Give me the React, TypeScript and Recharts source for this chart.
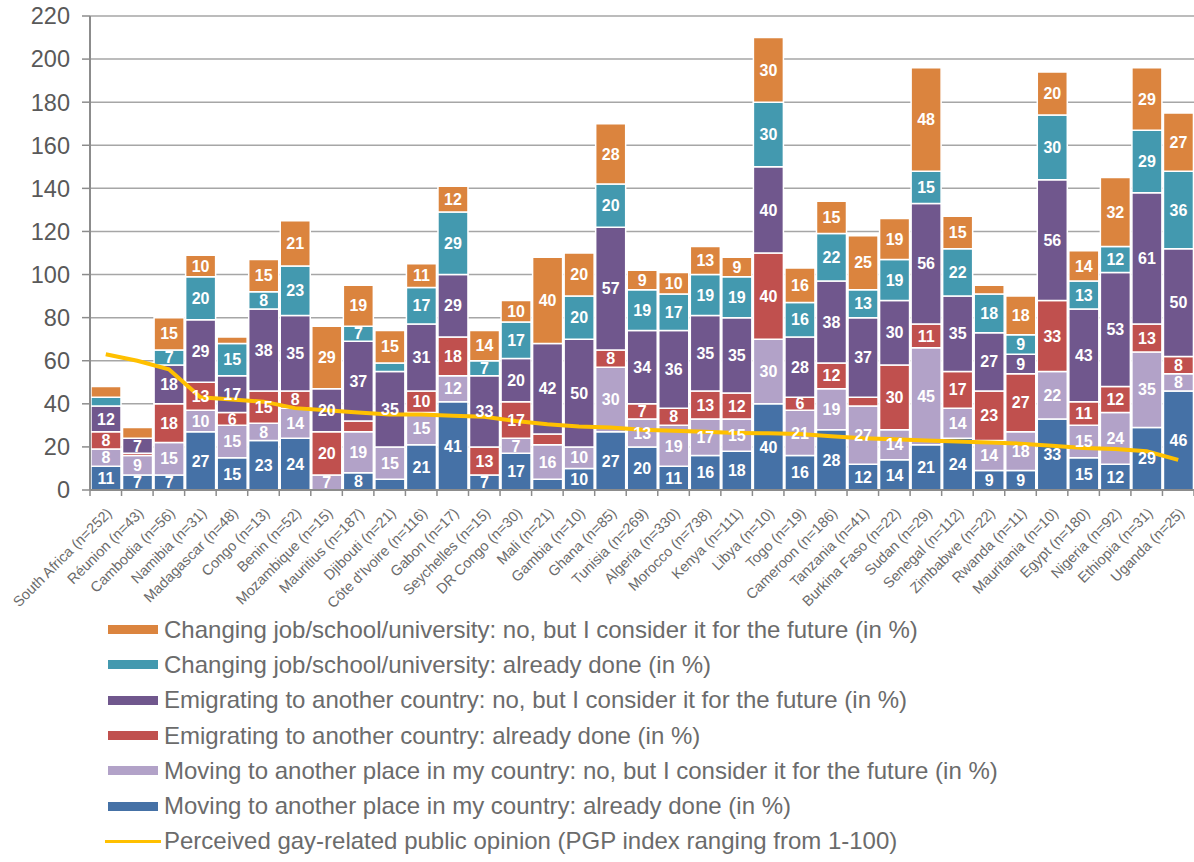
import React from 'react';
import {
  ComposedChart,
  Bar,
  Line,
  XAxis,
  YAxis,
  CartesianGrid,
  Legend,
  LabelList,
} from 'recharts';

const countries = [
  'South Africa (n=252)', 'Réunion (n=43)', 'Cambodia (n=56)', 'Namibia (n=31)', 'Madagascar (n=48)',
  'Congo (n=13)', 'Benin (n=52)', 'Mozambique (n=15)', 'Mauritius (n=187)', 'Djibouti (n=21)',
  "Côte d'Ivoire (n=116)", 'Gabon (n=17)', 'Seychelles (n=15)', 'DR Congo (n=30)', 'Mali (n=21)',
  'Gambia (n=10)', 'Ghana (n=85)', 'Tunisia (n=269)', 'Algeria (n=330)', 'Morocco (n=738)',
  'Kenya (n=111)', 'Libya (n=10)', 'Togo (n=19)', 'Cameroon (n=186)', 'Tanzania (n=41)',
  'Burkina Faso (n=22)', 'Sudan (n=29)', 'Senegal (n=112)', 'Zimbabwe (n=22)', 'Rwanda (n=11)',
  'Mauritania (n=10)', 'Egypt (n=180)', 'Nigeria (n=92)', 'Ethiopia (n=31)', 'Uganda (n=25)',
];

// stacked from the bottom up
const movingDone = [11, 7, 7, 27, 15, 23, 24, 0, 8, 5, 21, 41, 7, 17, 5, 10, 27, 20, 11, 16, 18, 40, 16, 28, 12, 14, 21, 24, 9, 9, 33, 15, 12, 29, 46];
const movingConsider = [8, 9, 15, 10, 15, 8, 14, 7, 19, 15, 15, 12, 0, 7, 16, 10, 30, 13, 19, 17, 15, 30, 21, 19, 27, 14, 45, 14, 14, 18, 22, 15, 24, 35, 8];
const emigratingDone = [8, 1, 18, 13, 6, 15, 8, 20, 5, 0, 10, 18, 13, 17, 5, 0, 8, 7, 8, 13, 12, 40, 6, 12, 4, 30, 11, 17, 23, 27, 33, 11, 12, 13, 8];
const emigratingConsider = [12, 7, 18, 29, 17, 38, 35, 20, 37, 35, 31, 29, 33, 20, 42, 50, 57, 34, 36, 35, 35, 40, 28, 38, 37, 30, 56, 35, 27, 9, 56, 43, 53, 61, 50];
const changingDone = [4, 0, 7, 20, 15, 8, 23, 0, 7, 4, 17, 29, 7, 17, 0, 20, 20, 19, 17, 19, 19, 30, 16, 22, 13, 19, 15, 22, 18, 9, 30, 13, 12, 29, 36];
const changingConsider = [5, 5, 15, 10, 3, 15, 21, 29, 19, 15, 11, 12, 14, 10, 40, 20, 28, 9, 10, 13, 9, 30, 16, 15, 25, 19, 48, 15, 4, 18, 20, 14, 32, 29, 27];

const pgpIndex = [63, 60, 56, 43, 42, 41, 38, 37, 36, 35, 35, 34.5, 34, 32, 30.5, 29.5, 29, 28, 27.5, 27, 26.5, 26.3, 26, 25, 24, 23.5, 23, 22.5, 22, 21.5, 20.5, 19.5, 19, 18, 14];

const yTicks = [0, 20, 40, 60, 80, 100, 120, 140, 160, 180, 200, 220];

const bars = [
  { key: 'movingDone', name: 'Moving to another place in my country: already done (in %)', color: '#4571A6' },
  { key: 'movingConsider', name: 'Moving to another place in my country: no, but I consider it for the future (in %)', color: '#B2A2C8' },
  { key: 'emigratingDone', name: 'Emigrating to another country: already done (in %)', color: '#C0504E' },
  { key: 'emigratingConsider', name: 'Emigrating to another country: no, but I consider it for the future (in %)', color: '#70578D' },
  { key: 'changingDone', name: 'Changing job/school/university: already done (in %)', color: '#4399AF' },
  { key: 'changingConsider', name: 'Changing job/school/university: no, but I consider it for the future (in %)', color: '#DB843E' },
];

const lineName = 'Perceived gay-related public opinion (PGP index ranging from 1-100)';
const lineColor = '#FFC000';

const data = countries.map((country, i) => ({
  country,
  movingDone: movingDone[i],
  movingConsider: movingConsider[i],
  emigratingDone: emigratingDone[i],
  emigratingConsider: emigratingConsider[i],
  changingDone: changingDone[i],
  changingConsider: changingConsider[i],
  pgp: pgpIndex[i],
}));

const WIDTH = 1194;
const HEIGHT = 862;
const PLOT_LEFT = 90;
const SLOT = (WIDTH - PLOT_LEFT) / countries.length;
const GREY = '#8c8c8c';
const TEXT = '#6b6b6b';

const CountryTick = (props: any) => {
  const { x, y, payload, index } = props;
  return (
    <g transform={`translate(${x},${y})`}>
      <line x1={-SLOT / 2} y1={0} x2={-SLOT / 2} y2={6} stroke={GREY} strokeWidth={1.5} />
      {index === countries.length - 1 && (
        <line x1={SLOT / 2} y1={0} x2={SLOT / 2} y2={6} stroke={GREY} strokeWidth={1.5} />
      )}
      <text
        x={0}
        y={0}
        transform="translate(7,24) rotate(-45)"
        textAnchor="end"
        fontSize={14.5}
        fill={TEXT}
      >
        {payload.value}
      </text>
    </g>
  );
};

const Swatch = ({ color, line }: { color: string; line?: boolean }) => (
  <span
    style={{
      display: 'inline-block',
      width: line ? 56 : 50,
      height: line ? 3.5 : 9,
      marginLeft: line ? -3 : 0,
      marginRight: line ? 3 : 6,
      background: color,
      verticalAlign: 'middle',
    }}
  />
);

const rowStyle: React.CSSProperties = {
  height: 35.3,
  display: 'flex',
  alignItems: 'center',
  fontSize: 24,
  color: TEXT,
  whiteSpace: 'nowrap',
};

const LegendList = () => {
  const items = [...bars].reverse();
  return (
    <div style={{ height: 250, paddingLeft: 108, boxSizing: 'border-box' }}>
      {items.map((s) => (
        <div key={s.key} style={rowStyle}>
          <Swatch color={s.color} />
          <span>{s.name}</span>
        </div>
      ))}
      <div style={rowStyle}>
        <Swatch color={lineColor} line />
        <span>{lineName}</span>
      </div>
    </div>
  );
};

const hideSmall = (v: any) => (Number(v) >= 6 ? v : '');

export default function App() {
  return (
    <div style={{ position: 'absolute', left: 0, top: 0, width: WIDTH, height: HEIGHT, background: '#fff', fontFamily: '"Liberation Sans", Arial, sans-serif' }}>
      <ComposedChart
        width={WIDTH}
        height={HEIGHT}
        data={data}
        margin={{ top: 16, right: 0, bottom: 0, left: 0 }}
        barCategoryGap={1}
      >
        <CartesianGrid vertical={false} stroke="#a6a6a6" strokeWidth={1.5} />
        <XAxis
          dataKey="country"
          interval={0}
          height={122}
          tickSize={0}
          tickMargin={0}
          tickLine={false}
          axisLine={{ stroke: GREY, strokeWidth: 2 }}
          tick={<CountryTick />}
        />
        <YAxis
          width={PLOT_LEFT}
          domain={[0, 220]}
          ticks={yTicks}
          interval={0}
          tickSize={8}
          tickMargin={12}
          tickLine={{ stroke: GREY, strokeWidth: 1.5 }}
          axisLine={{ stroke: GREY, strokeWidth: 2 }}
          tick={{ fontSize: 23.5, fill: '#595959' }}
        />
        {bars.map((s) => (
          <Bar
            key={s.key}
            dataKey={s.key}
            name={s.name}
            stackId="a"
            fill={s.color}
            stroke="#fff"
            strokeWidth={1.5}
            isAnimationActive={false}
          >
            <LabelList
              dataKey={s.key}
              position="center"
              formatter={hideSmall}
              fill="#fff"
              fontSize={16}
              fontWeight="bold"
            />
          </Bar>
        ))}
        <Line
          dataKey="pgp"
          name={lineName}
          type="linear"
          stroke={lineColor}
          strokeWidth={4}
          dot={false}
          activeDot={false}
          isAnimationActive={false}
        />
        <Legend
          verticalAlign="bottom"
          align="left"
          height={250}
          wrapperStyle={{ left: 0, bottom: 0, width: WIDTH }}
          content={() => <LegendList />}
        />
      </ComposedChart>
    </div>
  );
}
